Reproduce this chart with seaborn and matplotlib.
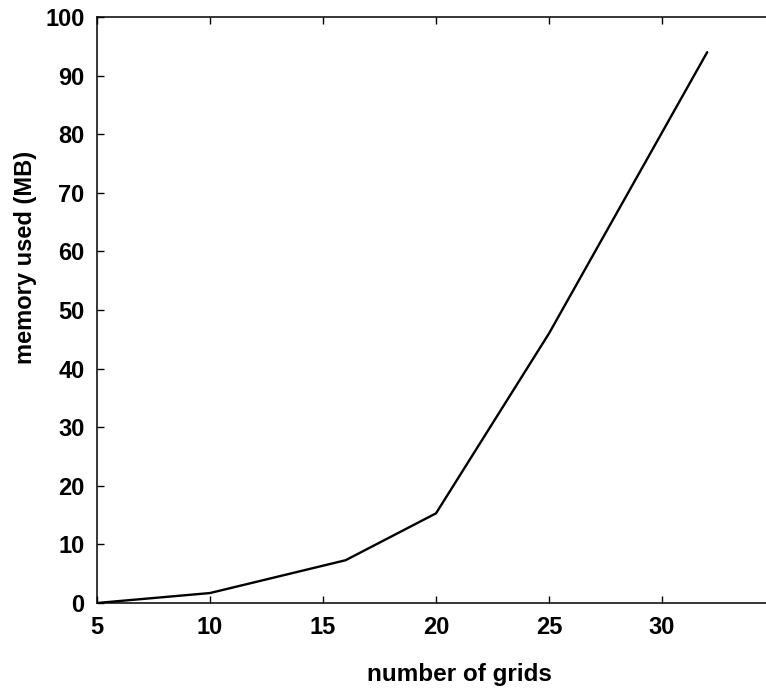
import matplotlib
matplotlib.use("Agg")
import matplotlib.pyplot as plt
import seaborn as sns
import pandas as pd

grids = [5, 10, 16, 20, 25, 32]
memory_mb = [0.0, 1.7, 7.3, 15.3, 46.0, 94.0]
x_ticks = [5, 10, 15, 20, 25, 30]
y_ticks = [0, 10, 20, 30, 40, 50, 60, 70, 80, 90, 100]

sns.set_theme(style="ticks")
plt.rcParams['font.family'] = ['Liberation Sans', 'DejaVu Sans']
plt.rcParams['font.weight'] = 'bold'

df = pd.DataFrame({"grids": grids, "memory": memory_mb})

fig = plt.figure(figsize=(7.66, 6.9), dpi=100)
W, H = 766, 690
left, right, top, bottom = 97, 775, 17, 603
ax = fig.add_axes([left / W, (H - bottom) / H, (right - left) / W, (bottom - top) / H])

sns.lineplot(data=df, x="grids", y="memory", color="black", linewidth=1.7, ax=ax)

ax.set_xlim(5, 35)
ax.set_ylim(0, 100)
ax.set_xticks(x_ticks)
ax.set_yticks(y_ticks)
ax.tick_params(direction="in", length=5, width=1, colors="black", labelsize=17,
               top=True, right=True, pad=9)
for lab in ax.get_xticklabels() + ax.get_yticklabels():
    lab.set_fontweight("bold")
for s in ax.spines.values():
    s.set_visible(True)
    s.set_linewidth(1.1)
    s.set_color("black")

ax.set_xlabel("number of grids", fontsize=17.5, fontweight="bold", color="black")
ax.set_ylabel("memory used (MB)", fontsize=17, fontweight="bold", color="black")
ax.xaxis.set_label_coords(0.535, -0.102)
ax.yaxis.set_label_coords(-0.088, 0.589)

fig.savefig("out.png", dpi=100, facecolor="white")
